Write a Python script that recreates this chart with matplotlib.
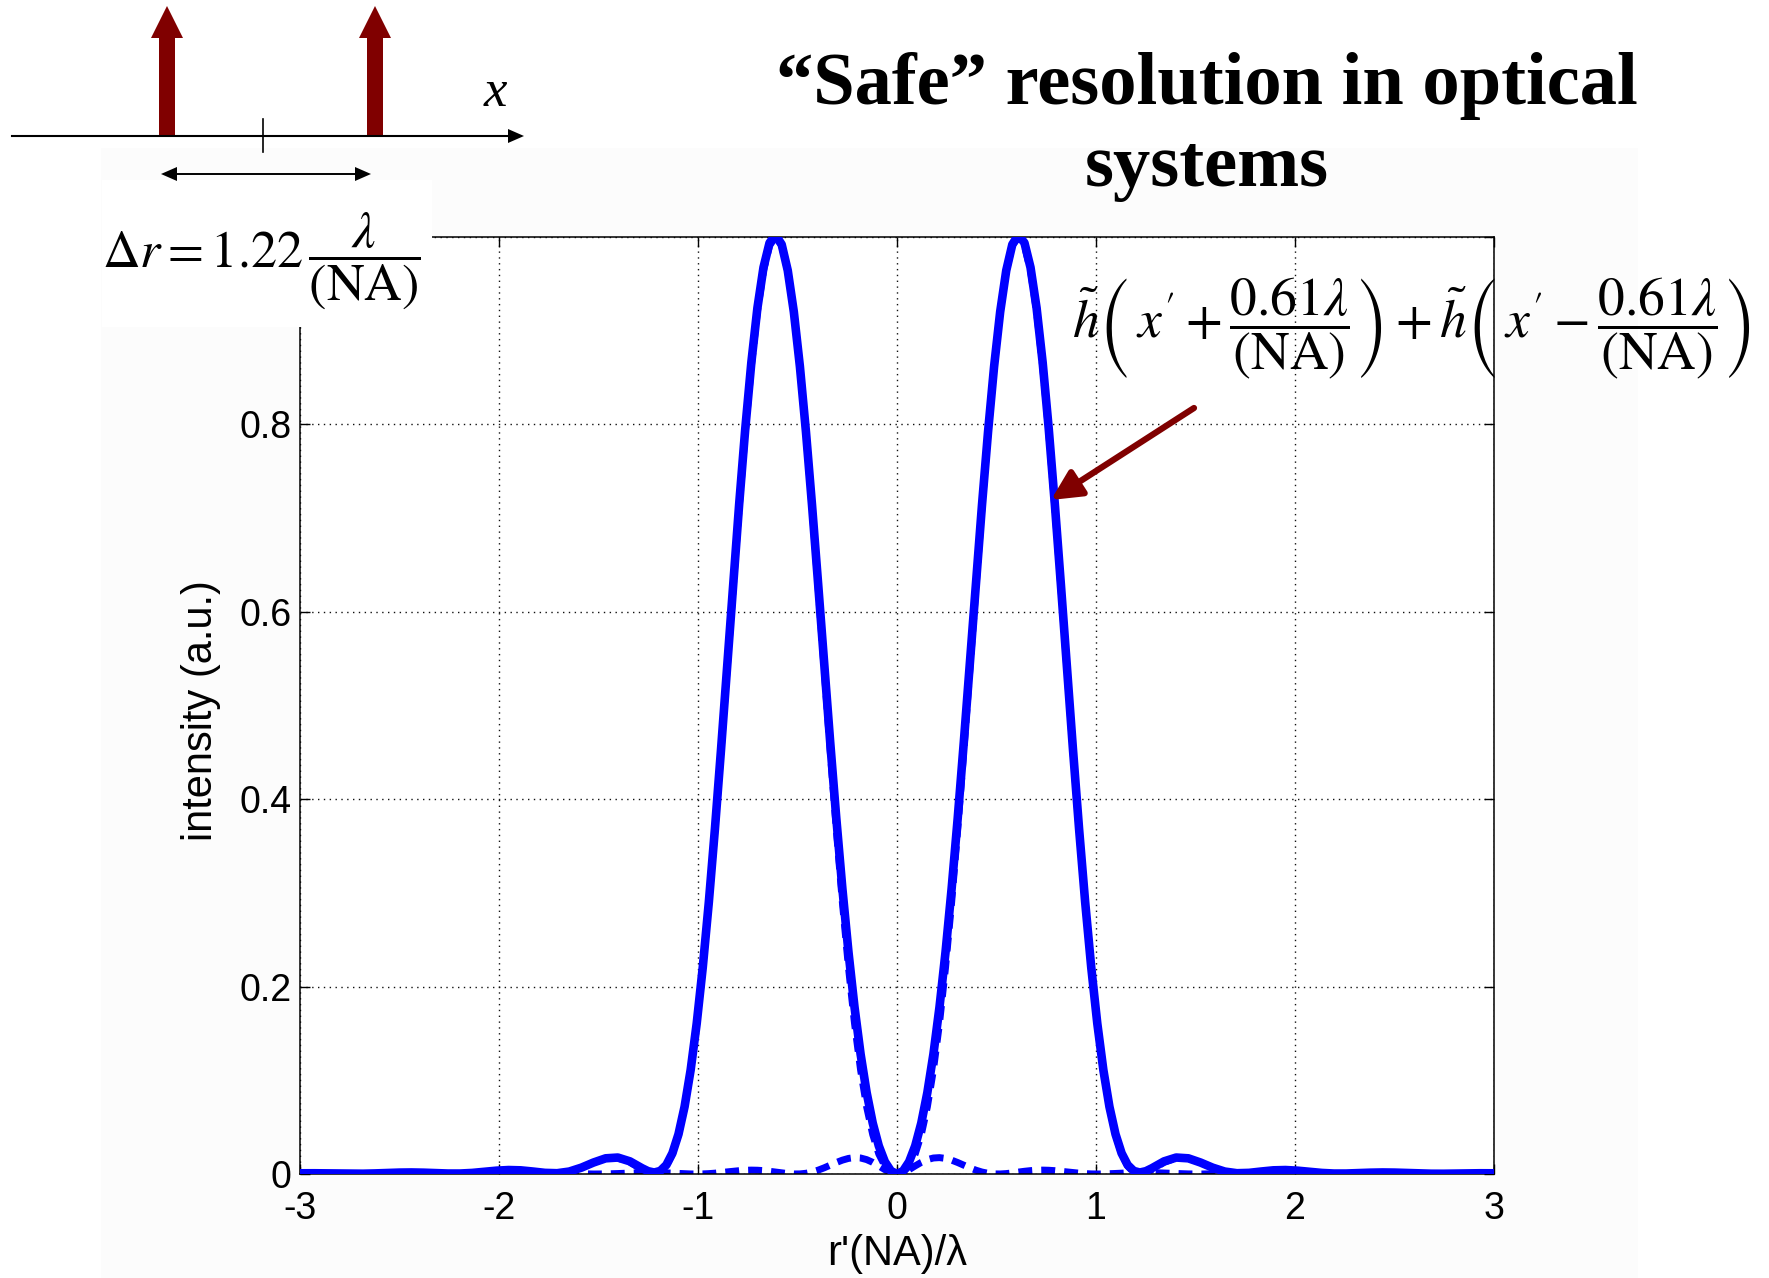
import numpy as np
import matplotlib
matplotlib.use("Agg")
import matplotlib.pyplot as plt
from matplotlib.patches import Rectangle, Polygon

plt.rcParams["mathtext.fontset"] = "stix"
plt.rcParams["font.family"] = ["Liberation Sans", "DejaVu Sans"]

# ---------------- data ----------------
# sample spacing along r'(NA)/lambda (half of 0.061)
half_step = 0.0305
# normalised single-point intensity (Airy profile) at distances given in half-steps from a peak
airy_half_index = list(range(0, 63)) + list(range(64, 121, 2))
airy_values = [
    1.00000, 0.99085, 0.96383, 0.92016, 0.86179, 0.79129, 0.71166, 0.62618, 0.53819, 0.45092,
    0.36730, 0.28985, 0.22052, 0.16064, 0.11094, 0.07152, 0.04195, 0.02134, 0.00845, 0.00185,
    0.00000, 0.00140, 0.00467, 0.00866, 0.01243, 0.01536, 0.01708, 0.01748, 0.01663, 0.01478,
    0.01225, 0.00940, 0.00658, 0.00408, 0.00210, 0.00077, 0.00010, 0.00004, 0.00045, 0.00119,
    0.00206, 0.00291, 0.00360, 0.00403, 0.00416, 0.00399, 0.00356, 0.00295, 0.00224, 0.00153,
    0.00090, 0.00041, 0.00011, 0.00000, 0.00007, 0.00028, 0.00058, 0.00091, 0.00121, 0.00144,
    0.00158, 0.00159, 0.00150,
    0.00105, 0.00049, 0.00010, 0.00001, 0.00020, 0.00051, 0.00074, 0.00076, 0.00058, 0.00031,
    0.00008, 0.00000, 0.00008, 0.00024, 0.00039, 0.00044, 0.00036, 0.00021, 0.00007, 0.00000,
    0.00003, 0.00013, 0.00022, 0.00027, 0.00024, 0.00015, 0.00006, 0.00000, 0.00001,
]
peak_offset = 20            # 0.61 lambda/NA expressed in half-steps
sample_n = list(range(-100, -43, 2)) + list(range(-42, 43)) + list(range(44, 101, 2))

x_ticks = [-3, -2, -1, 0, 1, 2, 3]
x_tick_labels = ["-3", "-2", "-1", "0", "1", "2", "3"]
y_ticks = [0, 0.2, 0.4, 0.6, 0.8, 1.0]
y_tick_labels = ["0", "0.2", "0.4", "0.6", "0.8", ""]   # "1" is hidden under the formula box

profile = dict(zip(airy_half_index, airy_values))
x = np.array(sample_n) * half_step
psf_left = np.array([profile[abs(n + peak_offset)] for n in sample_n])
psf_right = np.array([profile[abs(n - peak_offset)] for n in sample_n])
psf_sum = psf_left + psf_right

# ---------------- figure ----------------
W, H = 1769, 1278
fig = plt.figure(figsize=(W / 100, H / 100), dpi=100)
fig.patch.set_facecolor("white")
fig.add_artist(Rectangle((101 / W, 0), (1638 - 101) / W, (H - 148) / H,
                         transform=fig.transFigure, fc="#fcfcfc", ec="none", zorder=-1))

ax = fig.add_axes([300 / W, 1 - 1174 / H, 1194 / W, 937 / H])
ax.plot(x, psf_left, color="#0000ff", lw=5, ls=(0, (2.0, 1.3)), zorder=2)
ax.plot(x, psf_right, color="#0000ff", lw=5, ls=(0, (2.0, 1.3)), zorder=2)
ax.plot(x, psf_sum, color="#0000ff", lw=6.2, solid_joinstyle="round",
        solid_capstyle="round", zorder=3)

ax.set_xlim(-3, 3)
ax.set_ylim(0, 1)
ax.set_xticks(x_ticks)
ax.set_xticklabels(x_tick_labels)
ax.set_yticks(y_ticks)
ax.set_yticklabels(y_tick_labels)
ax.tick_params(direction="in", length=7, width=1, top=True, right=True, labelsize=27)
ax.tick_params(axis="x", pad=12)
ax.tick_params(axis="y", pad=6)
ax.grid(True, color="#111111", lw=1.0, ls=(0, (1, 3.2)))
for s in ax.spines.values():
    s.set_linewidth(1.1)
ax.set_xlabel("r'(NA)/\u03bb", fontsize=30)
ax.set_ylabel("intensity (a.u.)", fontsize=30)
ax.xaxis.set_label_coords(0.5, (1174 - 1254) / 937)
ax.xaxis.label.set_va("center")
ax.yaxis.set_label_coords((201 - 300) / 1194, (1174 - 711) / 937)
ax.yaxis.label.set_va("center")

# ---------------- overlay (pixel coordinates) ----------------
ov = fig.add_axes([0, 0, 1, 1], zorder=5)
ov.set_xlim(0, W)
ov.set_ylim(H, 0)
ov.axis("off")
ov.patch.set_alpha(0)

# white box behind the delta-r formula
ov.add_patch(Rectangle((102, 180), 330, 147, fc="white", ec="none"))

# top-left sketch
ov.plot([12, 512], [136, 136], color="k", lw=1.5)
ov.add_patch(Polygon([(508, 129), (524, 136), (508, 143)], closed=True, fc="k", ec="none"))
ov.plot([263, 263], [119, 152], color="k", lw=1.2)
red = "#800000"
for cx in (167, 375):
    ov.add_patch(Polygon([(cx - 8, 136), (cx + 8, 136), (cx + 8, 38), (cx + 16, 38),
                          (cx, 6), (cx - 16, 38), (cx - 8, 38)], closed=True, fc=red, ec="none"))
ov.plot([172, 360], [174, 174], color="k", lw=1.4)
ov.add_patch(Polygon([(161, 174), (177, 167), (177, 181)], closed=True, fc="k", ec="none"))
ov.add_patch(Polygon([(371, 174), (355, 167), (355, 181)], closed=True, fc="k", ec="none"))
ov.text(495, 106, "x", family="Liberation Serif", style="italic", fontsize=38,
        ha="center", va="baseline")

renderer = fig.canvas.get_renderer()


def fit_width(t, target):
    bb = t.get_window_extent(renderer)
    t.set_fontsize(t.get_fontsize() * target / bb.width)


dr = ov.text(102, 267, r"$\Delta r = 1.22\,\dfrac{\lambda}{(\mathrm{NA})}$",
             fontsize=36, ha="left", va="baseline")
fit_width(dr, 319)

formula = ov.text(1072, 337,
                  r"$\tilde{h}\left(\,x^{\prime}+\dfrac{0.61\lambda}{(\mathrm{NA})}\right)"
                  r"+\tilde{h}\left(\,x^{\prime}-\dfrac{0.61\lambda}{(\mathrm{NA})}\right)$",
                  fontsize=36, ha="left", va="baseline")
fit_width(formula, 679)

t1 = ov.text(1207, 104, "\u201cSafe\u201d resolution in optical", family="Liberation Serif",
             weight="bold", fontsize=52, ha="center", va="baseline")
fit_width(t1, 862)
ov.text(1207, 186, "systems", family="Liberation Serif", weight="bold",
        fontsize=t1.get_fontsize(), ha="center", va="baseline")

ov.annotate("", xy=(1051, 500), xytext=(1194, 408), xycoords="data", textcoords="data",
            arrowprops=dict(arrowstyle="-|>,head_length=0.9,head_width=0.45", color=red,
                            lw=4.5, mutation_scale=20, shrinkA=0, shrinkB=0))

fig.savefig("out.png", dpi=100)
